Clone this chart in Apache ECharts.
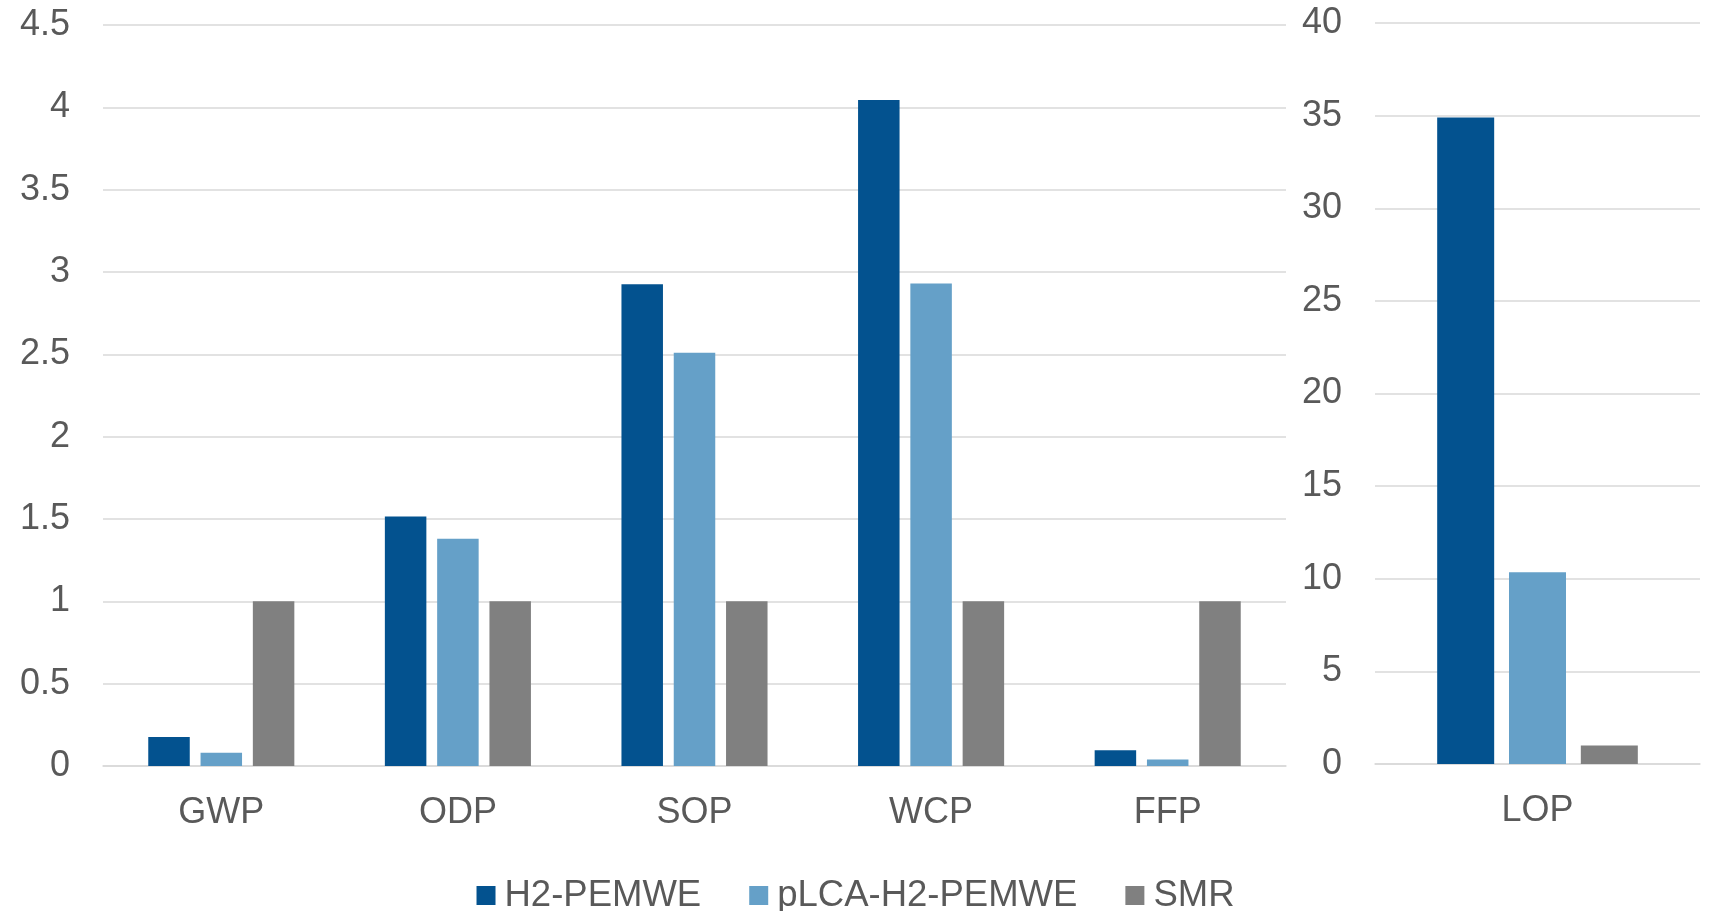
<!DOCTYPE html>
<html>
<head>
<meta charset="utf-8">
<script src="https://cdn.jsdelivr.net/npm/echarts@6/dist/echarts.min.js"></script>
<style>
html,body{margin:0;padding:0;background:#fff;}
#chart{width:1711px;height:911px;}
</style>
</head>
<body>
<div id="chart"></div>
<script>
const categoriesLeft = ['GWP', 'ODP', 'SOP', 'WCP', 'FFP'];
const categoriesRight = ['LOP'];
const seriesNames = ['H2-PEMWE', 'pLCA-H2-PEMWE', 'SMR'];
const h2Left = [0.176, 1.515, 2.925, 4.045, 0.096];
const pLCALeft = [0.08, 1.38, 2.51, 2.93, 0.04];
const smrLeft = [1, 1, 1, 1, 1];
const h2Right = [34.9];
const pLCARight = [10.35];
const smrRight = [1.0];

const colors = ['#03528f', '#65a0c8', '#808080'];
const textColor = '#595959';
const gridColor = '#d9d9d9';
const fontFamily = '"Liberation Sans", Arial, sans-serif';

const chart = echarts.init(document.getElementById('chart'), null, {renderer: 'canvas'});

function xAxisCfg(idx, data) {
  return {
    type: 'category', gridIndex: idx, data: data,
    axisLine: {show: true, lineStyle: {color: gridColor, width: 1.5}},
    axisTick: {show: false},
    axisLabel: {color: textColor, fontSize: 36, fontFamily: fontFamily, margin: 29}
  };
}
function yAxisCfg(idx, max, interval) {
  return {
    type: 'value', gridIndex: idx, min: 0, max: max, interval: interval,
    axisLine: {show: false}, axisTick: {show: false},
    splitLine: {show: true, lineStyle: {color: gridColor, width: 1.5}},
    axisLabel: {color: textColor, fontSize: 36, fontFamily: fontFamily, margin: 33, padding: [8, 0, 0, 0]}
  };
}
function barSeries(name, axisIdx, data, colorIdx, width) {
  return {
    name: name, type: 'bar', xAxisIndex: axisIdx, yAxisIndex: axisIdx,
    data: data, barWidth: width, barGap: '26%',
    itemStyle: {color: colors[colorIdx]},
    emphasis: {disabled: true}
  };
}

chart.setOption({
  animation: false,
  backgroundColor: '#fff',
  textStyle: {fontFamily: fontFamily},
  legend: {
    data: seriesNames,
    top: 872,
    left: 'center',
    icon: 'rect',
    itemWidth: 19, itemHeight: 19, itemGap: 48,
    textStyle: {color: textColor, fontSize: 36.5, fontFamily: fontFamily, padding: [0, 0, 0, 4]}
  },
  grid: [
    {left: 103, right: 425, top: 25, bottom: 145},
    {left: 1375, right: 11, top: 23, bottom: 147}
  ],
  xAxis: [xAxisCfg(0, categoriesLeft), xAxisCfg(1, categoriesRight)],
  yAxis: [yAxisCfg(0, 4.5, 0.5), yAxisCfg(1, 40, 5)],
  series: [
    barSeries(seriesNames[0], 0, h2Left, 0, 41.5),
    barSeries(seriesNames[1], 0, pLCALeft, 1, 41.5),
    barSeries(seriesNames[2], 0, smrLeft, 2, 41.5),
    barSeries(seriesNames[0], 1, h2Right, 0, 57),
    barSeries(seriesNames[1], 1, pLCARight, 1, 57),
    barSeries(seriesNames[2], 1, smrRight, 2, 57)
  ]
});
</script>
</body>
</html>
